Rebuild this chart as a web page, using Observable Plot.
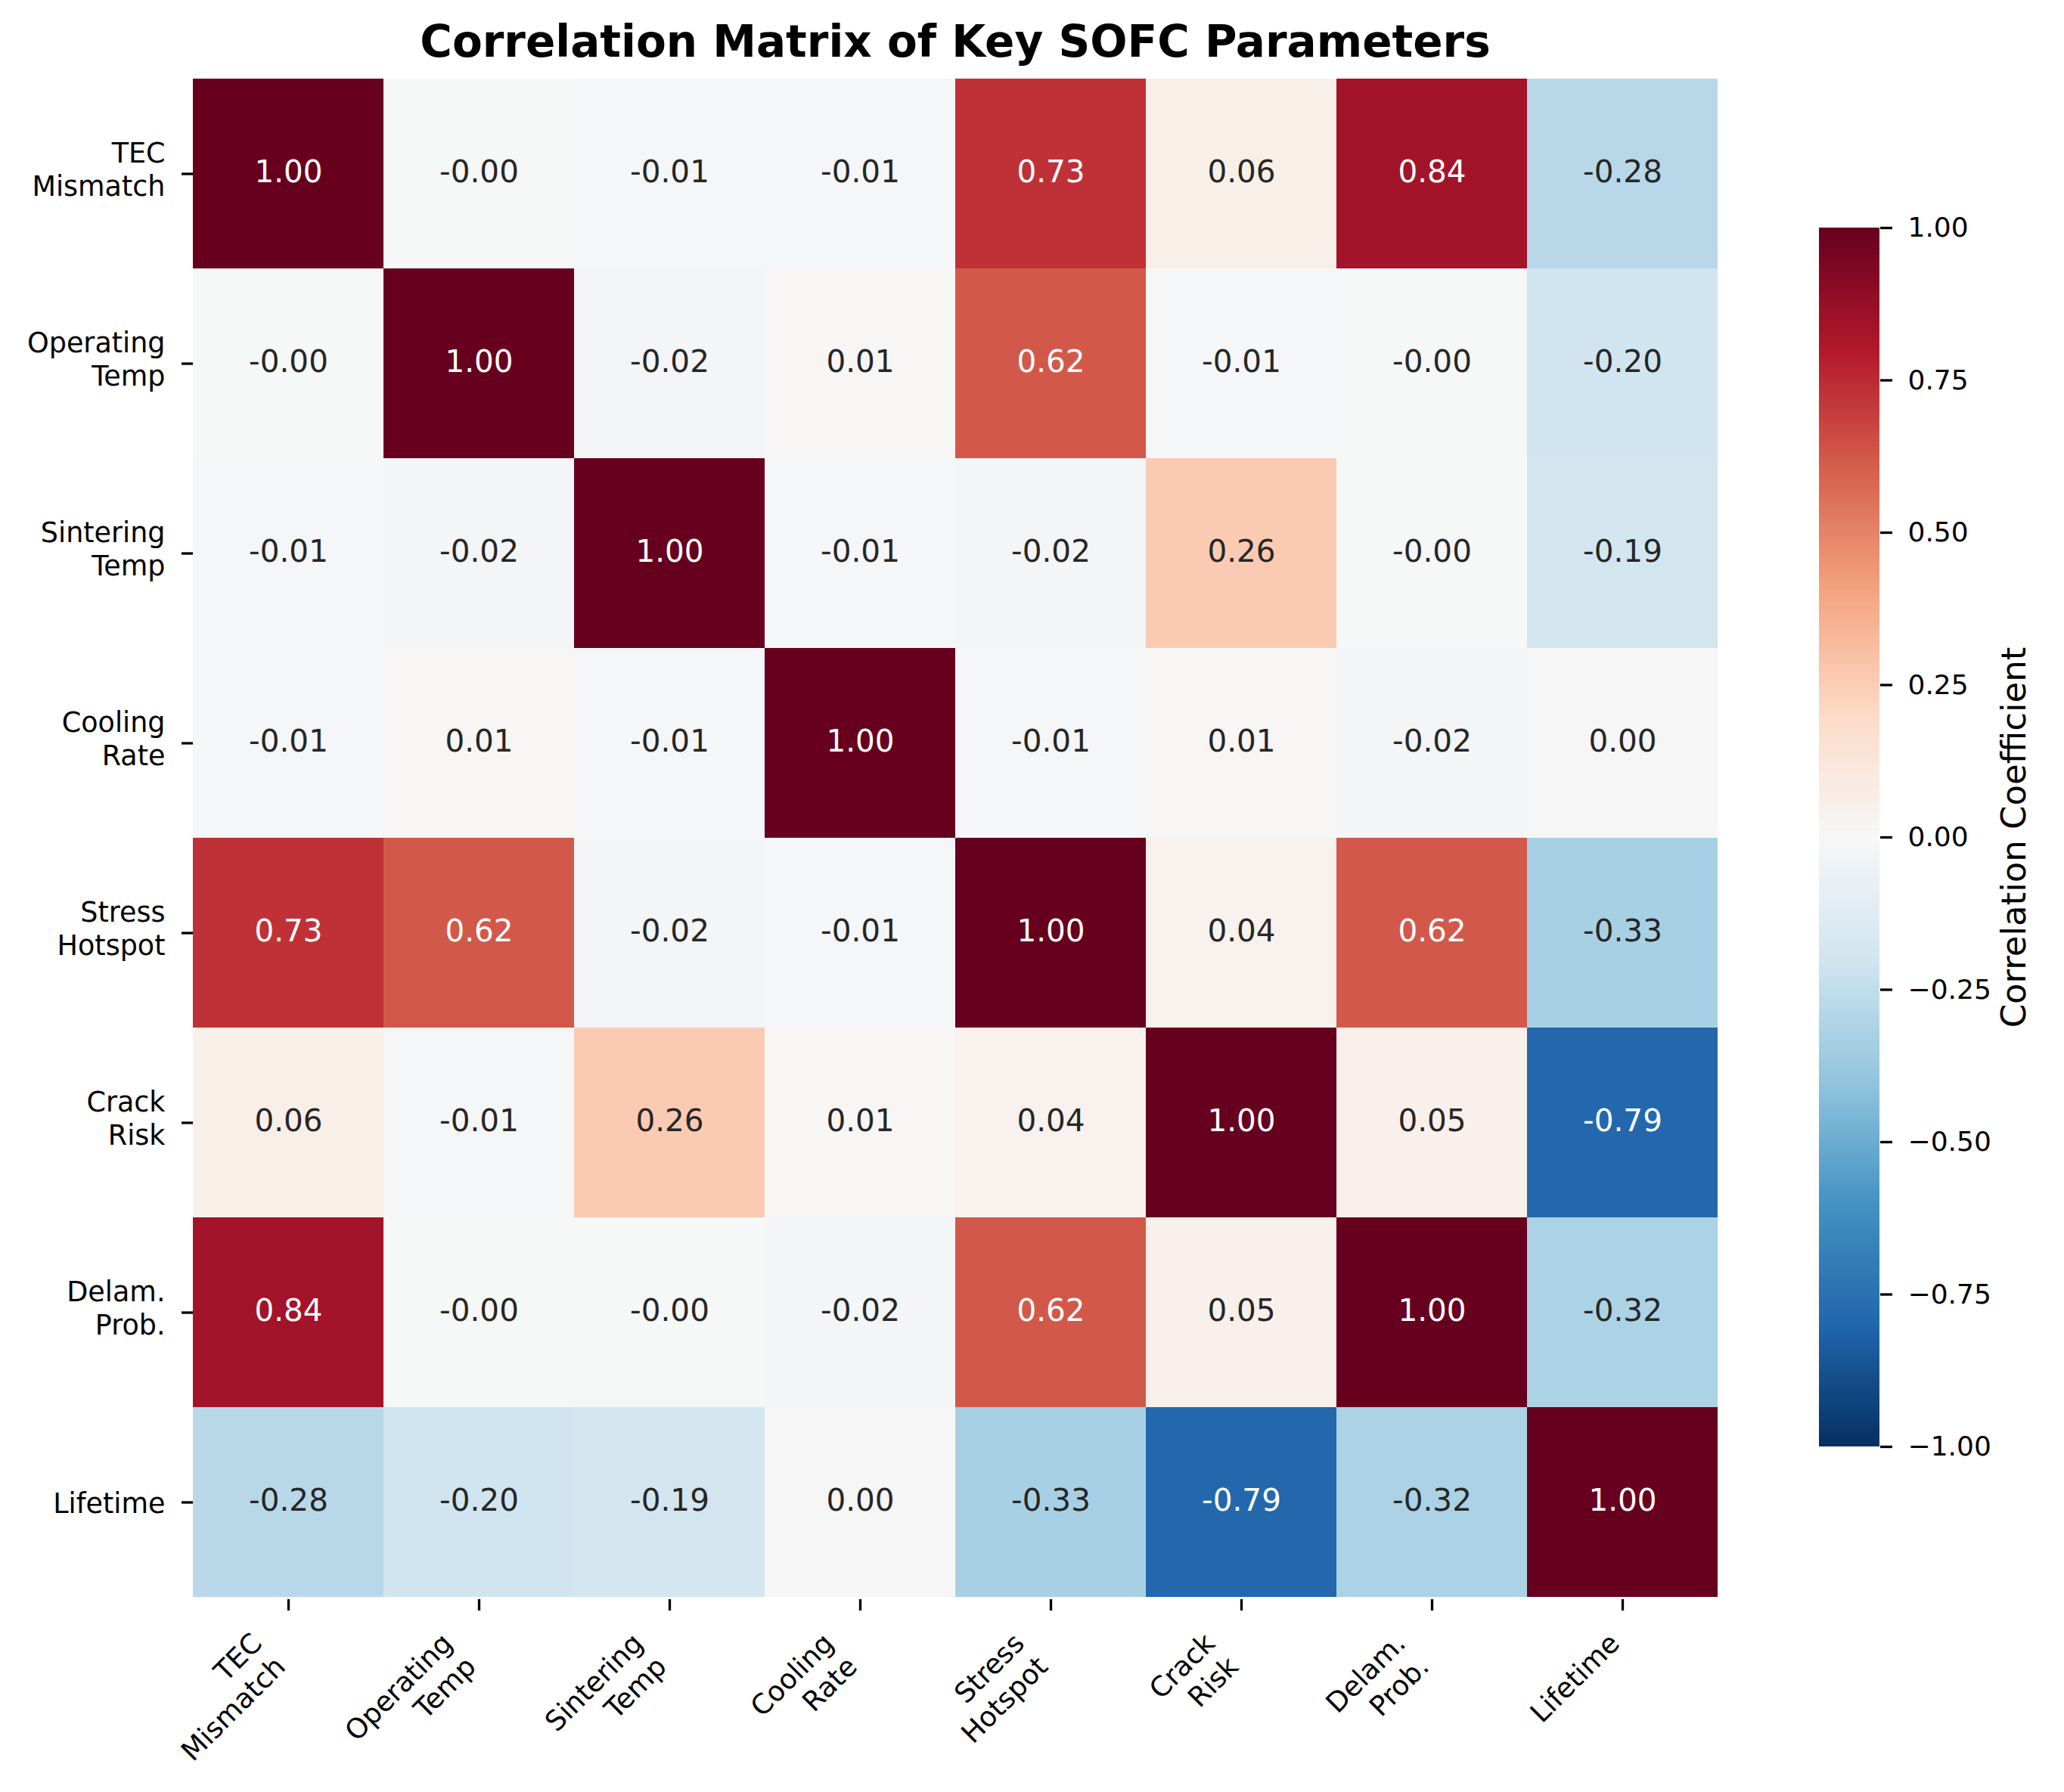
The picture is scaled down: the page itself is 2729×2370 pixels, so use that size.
<!DOCTYPE html>
<html>
<head>
<meta charset="utf-8">
<script src="https://cdn.jsdelivr.net/npm/d3@7"></script>
<script src="https://cdn.jsdelivr.net/npm/@observablehq/plot@0.6"></script>
<style>
  html, body { margin: 0; padding: 0; background: #fff; }
  #wrap { position: relative; width: 2729px; height: 2370px; overflow: hidden; font-family: "DejaVu Sans", sans-serif; }
  #title { position: absolute; left: 0; width: 2526px; top: 26px; text-align: center; font-weight: bold; font-size: 58px; line-height: 58px; color: #000; }
  #main, #cbar { position: absolute; top: 0; }
  #main { left: 0; }
  #cbar { left: 2380px; }
</style>
</head>
<body>
<div id="wrap">
  <div id="title">Correlation Matrix of Key SOFC Parameters</div>
  <div id="main"></div>
  <div id="cbar"></div>
</div>
<script>
// ---- data ----
const categories = ["TEC\nMismatch", "Operating\nTemp", "Sintering\nTemp", "Cooling\nRate",
                    "Stress\nHotspot", "Crack\nRisk", "Delam.\nProb.", "Lifetime"];
const rowTEC       = [1.00, -0.004, -0.01, -0.01, 0.73, 0.06, 0.84, -0.28];
const rowOperating = [-0.004, 1.00, -0.02, 0.01, 0.62, -0.01, -0.003, -0.20];
const rowSintering = [-0.01, -0.02, 1.00, -0.01, -0.02, 0.26, -0.003, -0.19];
const rowCooling   = [-0.01, 0.01, -0.01, 1.00, -0.01, 0.01, -0.02, 0.004];
const rowStress    = [0.73, 0.62, -0.02, -0.01, 1.00, 0.04, 0.62, -0.33];
const rowCrack     = [0.06, -0.01, 0.26, 0.01, 0.04, 1.00, 0.05, -0.79];
const rowDelam     = [0.84, -0.003, -0.003, -0.02, 0.62, 0.05, 1.00, -0.32];
const rowLifetime  = [-0.28, -0.20, -0.19, 0.004, -0.33, -0.79, -0.32, 1.00];
const matrixRows = [rowTEC, rowOperating, rowSintering, rowCooling, rowStress, rowCrack, rowDelam, rowLifetime];
const colorbarTicks = [-1, -0.75, -0.5, -0.25, 0, 0.25, 0.5, 0.75, 1];
const colorbarLabel = "Correlation Coefficient";

// RdBu_r (matplotlib) stops
const rdbuStops = d3.range(11).map(i => -1 + i * 0.2);
const rdbuColors = ["#053061", "#2166ac", "#4393c3", "#92c5de", "#d1e5f0", "#f7f7f7",
                    "#fddbc7", "#f4a582", "#d6604d", "#b2182b", "#67001f"];
const colorDef = {type: "linear", domain: rdbuStops, range: rdbuColors, interpolate: "rgb", clamp: true};

const cells = [];
matrixRows.forEach((row, i) => row.forEach((v, j) => cells.push({row: categories[i], col: categories[j], value: v})));

// text colour like seaborn: luminance of the cell colour
const helper = d3.scaleLinear().domain(rdbuStops).range(rdbuColors).interpolate(d3.interpolateRgb);
function lum(c) {
  const rgb = d3.rgb(c);
  const f = x => { x /= 255; return x <= 0.03928 ? x / 12.92 : Math.pow((x + 0.055) / 1.055, 2.4); };
  return 0.2126 * f(rgb.r) + 0.7152 * f(rgb.g) + 0.0722 * f(rgb.b);
}
const isDark = d => lum(helper(d.value)) <= 0.408;
const fmt = d => d.value.toFixed(2);

const twoLine = categories.filter(c => c.includes("\n"));
const oneLine = categories.filter(c => !c.includes("\n"));

const font = {fontFamily: "DejaVu Sans", background: "transparent", overflow: "visible"};

const main = Plot.plot({
  width: 2380, height: 2370,
  marginLeft: 255, marginRight: 109, marginTop: 100, marginBottom: 255,
  style: font,
  x: {domain: categories, padding: 0, label: null},
  y: {domain: categories, padding: 0, label: null},
  color: colorDef,
  marks: [
    Plot.cell(cells, {x: "col", y: "row", fill: "value", inset: 0, shapeRendering: "crispEdges"}),
    Plot.text(cells.filter(isDark), {x: "col", y: "row", text: fmt, fill: "white", fontSize: 40.5, dy: -2}),
    Plot.text(cells.filter(d => !isDark(d)), {x: "col", y: "row", text: fmt, fill: "#262626", fontSize: 40.5, dy: -2}),
    Plot.axisY({anchor: "left", tickSize: 15, strokeWidth: 3.3, fill: "none", label: null}),
    Plot.axisY(twoLine, {anchor: "left", tickSize: 0, tickPadding: 37, fontSize: 36.5, lineHeight: 1.2, dy: -7, label: null, fill: "#000"}),
    Plot.axisY(oneLine, {anchor: "left", tickSize: 0, tickPadding: 37, fontSize: 36.5, lineHeight: 1.2, label: null, fill: "#000"}),
    Plot.axisX({anchor: "bottom", tickSize: 15, strokeWidth: 3.3, fill: "none", label: null}),
    Plot.axisX(twoLine, {anchor: "bottom", tickSize: 0, tickPadding: 0, tickRotate: -45, textAnchor: "end", lineAnchor: "top",
                         lineHeight: 1.2, fontSize: 36.5, dx: -55, dy: 38, label: null, fill: "#000"}),
    Plot.axisX(oneLine, {anchor: "bottom", tickSize: 0, tickPadding: 0, tickRotate: -45, textAnchor: "end", lineAnchor: "top",
                         lineHeight: 1.2, fontSize: 36.5, dx: -24, dy: 38, label: null, fill: "#000"})
  ]
});
document.getElementById("main").appendChild(main);

// colour bar (legend)
const step = 2 / 400;
const ramp = d3.range(-1, 1 - step / 2, step);
const minusFmt = v => (v < 0 ? "\u2212" : "") + Math.abs(v).toFixed(2);
const cbar = Plot.plot({
  width: 349, height: 2370,
  marginLeft: 25, marginRight: 244, marginTop: 301, marginBottom: 457,
  style: font,
  x: {axis: null},
  y: {domain: [-1, 1], axis: null},
  color: colorDef,
  marks: [
    Plot.rect(ramp, {y1: d => d, y2: d => Math.min(1, d + step * 1.5), fill: d => d + step / 2, shapeRendering: "crispEdges"}),
    Plot.axisY({anchor: "right", ticks: colorbarTicks, tickFormat: minusFmt, tickSize: 16, tickPadding: 21,
                strokeWidth: 3.3, fontSize: 36, label: null, fill: "#000"}),
    Plot.text([colorbarLabel], {frameAnchor: "right", rotate: -90, dx: 178, textAnchor: "middle", lineAnchor: "middle",
                                fontSize: 45, fill: "#000"})
  ]
});
document.getElementById("cbar").appendChild(cbar);
</script>
</body>
</html>
